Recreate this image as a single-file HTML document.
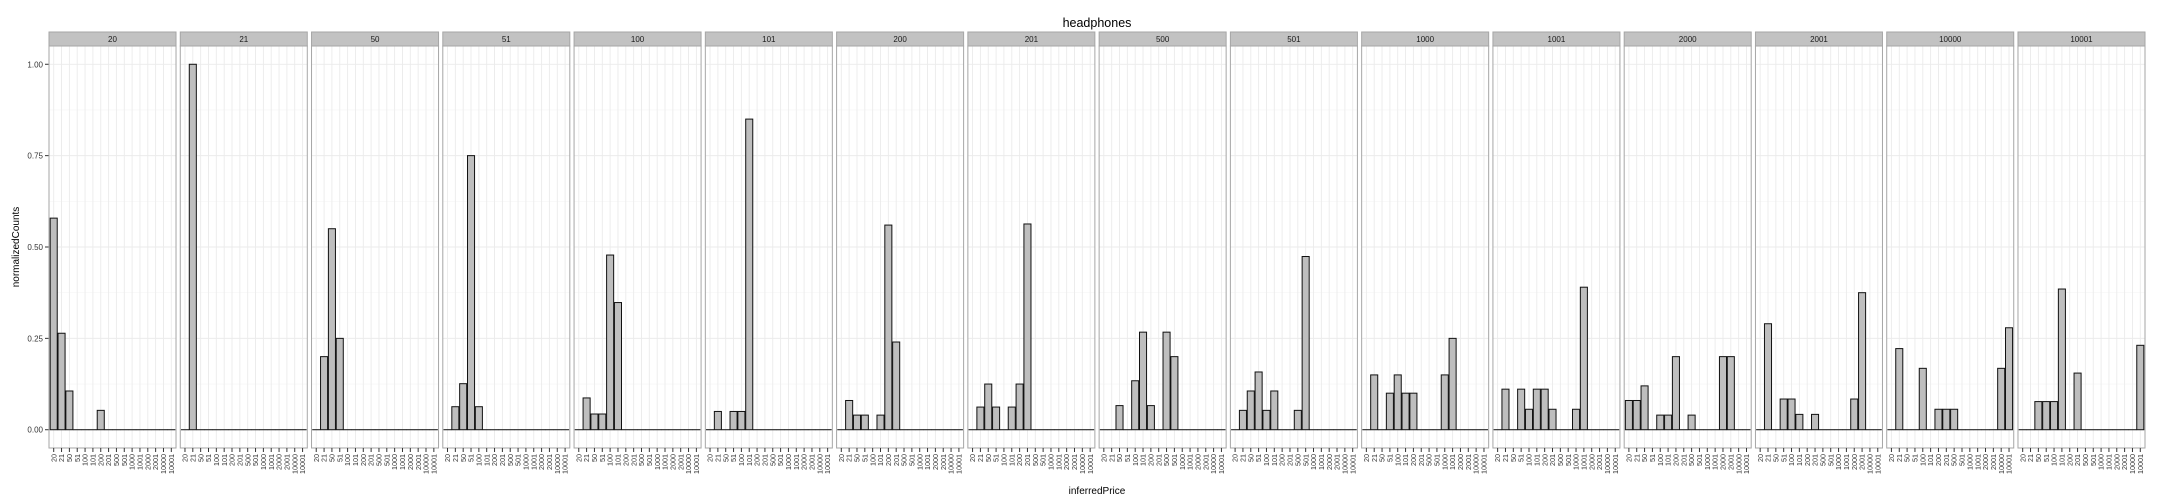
<!DOCTYPE html>
<html><head><meta charset="utf-8">
<style>
html,body{margin:0;padding:0;background:#fff;}
svg{display:block;font-family:"Liberation Sans",Arial,sans-serif;}
</style></head>
<body>
<svg id="chart" width="2160" height="504" viewBox="0 0 2160 504"></svg>
<script>
const categories = ["20","21","50","51","100","101","200","201","500","501","1000","1001","2000","2001","10000","10001"];
const facets = ["20","21","50","51","100","101","200","201","500","501","1000","1001","2000","2001","10000","10001"];
const yTicks = [0, 0.25, 0.5, 0.75, 1.0];
const yTickLabels = ["0.00","0.25","0.50","0.75","1.00"];
const v20    = [0.579,0.264,0.106,0,0,0,0.053,0,0,0,0,0,0,0,0,0];
const v21    = [0,1.0,0,0,0,0,0,0,0,0,0,0,0,0,0,0];
const v50    = [0,0.20,0.55,0.25,0,0,0,0,0,0,0,0,0,0,0,0];
const v51    = [0,0.063,0.126,0.75,0.063,0,0,0,0,0,0,0,0,0,0,0];
const v100   = [0,0.087,0.043,0.043,0.478,0.348,0,0,0,0,0,0,0,0,0,0];
const v101   = [0,0.05,0,0.05,0.05,0.85,0,0,0,0,0,0,0,0,0,0];
const v200   = [0,0.08,0.04,0.04,0,0.04,0.56,0.24,0,0,0,0,0,0,0,0];
const v201   = [0,0.062,0.125,0.062,0,0.062,0.125,0.563,0,0,0,0,0,0,0,0];
const v500   = [0,0,0.066,0,0.134,0.267,0.066,0,0.267,0.2,0,0,0,0,0,0];
const v501   = [0,0.053,0.106,0.158,0.053,0.106,0,0,0.053,0.474,0,0,0,0,0,0];
const v1000  = [0,0.15,0,0.1,0.15,0.1,0.1,0,0,0,0.15,0.25,0,0,0,0];
const v1001  = [0,0.111,0,0.111,0.056,0.111,0.111,0.056,0,0,0.056,0.39,0,0,0,0];
const v2000  = [0.08,0.08,0.12,0,0.04,0.04,0.2,0,0.04,0,0,0,0.2,0.2,0,0];
const v2001  = [0,0.29,0,0.084,0.084,0.042,0,0.042,0,0,0,0,0.084,0.375,0,0];
const v10000 = [0,0.222,0,0,0.168,0,0.056,0.056,0.056,0,0,0,0,0,0.168,0.279];
const v10001 = [0,0,0.077,0.077,0.077,0.385,0,0.155,0,0,0,0,0,0,0,0.231];
const seriesValues = [v20,v21,v50,v51,v100,v101,v200,v201,v500,v501,v1000,v1001,v2000,v2001,v10000,v10001];

const NS = "http://www.w3.org/2000/svg";
const svgEl = document.getElementById("chart");
function mk(tag, attrs, parent){
  const e = document.createElementNS(NS, tag);
  for (const k in attrs) e.setAttribute(k, attrs[k]);
  (parent||svgEl).appendChild(e);
  return e;
}
const left0 = 49, right0 = 2145, gap = 4.25, nP = facets.length;
const pw = (right0 - left0 - gap*(nP-1)) / nP;
const panelTop = 46, panelBottom = 448, stripTop = 32;
const yMin = -0.05, yMax = 1.05;
function yScale(v){ return panelBottom - (v - yMin)/(yMax - yMin)*(panelBottom - panelTop); }
function xScale(p, i){
  const L = left0 + p*(pw+gap);
  return L + ((i+1) - 0.4) / (categories.length + 0.2) * pw;
}
const step = pw / (categories.length + 0.2);

const t = mk("text",{x:1097,y:27,"text-anchor":"middle","font-size":"12.5",fill:"#000"});
t.textContent = "headphones";



const yt = mk("text",{x:0,y:0,"text-anchor":"middle","font-size":"10",fill:"#000",transform:"translate(19,247) rotate(-90)"});
yt.textContent = "normalizedCounts";



const xt = mk("text",{x:1097,y:494,"text-anchor":"middle","font-size":"10",fill:"#000"});
xt.textContent = "inferredPrice";



yTicks.forEach((v,k)=>{
  const y = yScale(v);
  const tk = mk("line",{x1:45,x2:49,y1:y,y2:y,stroke:"#333","stroke-width":1});
  
  
  const lb = mk("text",{x:43,y:y+3,"text-anchor":"end","font-size":"8",fill:"#333"});
  lb.textContent = yTickLabels[k];
  
  
});

facets.forEach((f,p)=>{
  const L = left0 + p*(pw+gap);
  const g = mk("g",{});
  
  
  for (let k=0;k<yTicks.length-1;k++){
    const y = yScale((yTicks[k]+yTicks[k+1])/2);
    mk("line",{x1:L,x2:L+pw,y1:y,y2:y,stroke:"#f5f5f5","stroke-width":0.6},g);
  }
  yTicks.forEach(v=>{
    const y = yScale(v);
    mk("line",{x1:L,x2:L+pw,y1:y,y2:y,stroke:"#ebebeb","stroke-width":0.9},g);
  });
  categories.forEach((c,i)=>{
    const x = xScale(p,i);
    mk("line",{x1:x,x2:x,y1:panelTop,y2:panelBottom,stroke:"#ebebeb","stroke-width":0.9},g);
  });
  const vals = seriesValues[p];
  categories.forEach((c,i)=>{
    const x = xScale(p,i), w = step*0.9;
    const v = vals[i];
    const y0 = yScale(0), y1 = yScale(v);
    const r = mk("rect",{x:x-w/2,y:Math.min(y0,y1),width:w,height:Math.max(Math.abs(y0-y1),0.01),fill:"#bebebe",stroke:"#111","stroke-width":1},g);
    
    
  });
  const b = mk("rect",{x:L,y:panelTop,width:pw,height:panelBottom-panelTop,fill:"none",stroke:"#a6a6a6","stroke-width":1},g);
  
  
  const s = mk("rect",{x:L,y:stripTop,width:pw,height:panelTop-stripTop,fill:"#c2c2c2",stroke:"#a6a6a6","stroke-width":1},g);
  
  
  const st = mk("text",{x:L+pw/2,y:panelTop-4,"text-anchor":"middle","font-size":"8",fill:"#1a1a1a"},g);
  st.textContent = f;
  
  
  categories.forEach((c,i)=>{
    const x = xScale(p,i);
    const tk = mk("line",{x1:x,x2:x,y1:panelBottom,y2:panelBottom+4,stroke:"#333","stroke-width":1},g);
    
    
    const lb = mk("text",{x:0,y:0,"text-anchor":"end","font-size":"7.2",fill:"#333",transform:"translate("+(x+2.6)+","+(panelBottom+6)+") rotate(-90)"},g);
    lb.textContent = c;
    
    
  });
});
</script>
</body></html>
